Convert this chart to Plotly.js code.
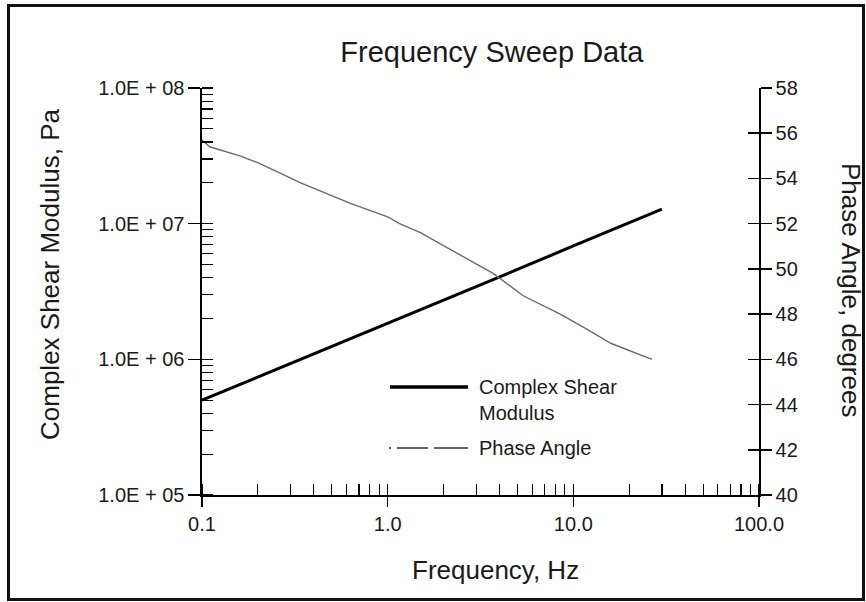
<!DOCTYPE html>
<html>
<head>
<meta charset="utf-8">
<script src="https://cdn.plot.ly/plotly-3.0.1.min.js"></script>
<style>
  body { margin: 0; background: #fff; }
  #wrap { position: relative; width: 866px; height: 602px; }
  #chart { width: 866px; height: 602px; }
  #frame {
    position: absolute; left: 7px; top: 4px; width: 852px; height: 591px;
    border: 3px solid #111; pointer-events: none;
  }
</style>
</head>
<body>
<div id="wrap">
  <div id="chart"></div>
  <div id="frame"></div>
</div>
<script>
// Complex shear modulus (Pa) vs frequency (Hz)
const modFreq = [0.1, 0.2, 0.5, 1.0, 2.0, 5.0, 10.0, 20.0, 30.0];
const modValues = [5.0e5, 7.4e5, 1.24e6, 1.85e6, 2.75e6, 4.6e6, 6.85e6, 1.02e7, 1.28e7];

// Phase angle (degrees) vs frequency (Hz)
const phaseFreq = [0.1, 0.11, 0.16, 0.2, 0.34, 0.63, 1.0, 1.16, 1.5, 2.5, 3.7, 5.4, 8.5, 12, 16, 26.5];
const phaseValues = [55.7, 55.4, 55.0, 54.7, 53.8, 52.9, 52.3, 52.0, 51.6, 50.6, 49.8, 48.8, 48.0, 47.3, 46.7, 46.0];

// Tick labels
const xTickVals = [0.1, 1, 10, 100];
const xTickText = ['0.1', '1.0', '10.0', '100.0'];
const yTickVals = [1e5, 1e6, 1e7, 1e8];
const yTickText = ['1.0E + 05', '1.0E + 06', '1.0E + 07', '1.0E + 08'];

const font = 'Liberation Sans, Arial, sans-serif';
const ink = '#1a1a1a';

// plot area in pixels, used to place the hand-made legend
const L = 202, R = 759, T = 88, B = 495;
const px = x => (x - L) / (R - L);
const py = y => (B - y) / (B - T);

const traces = [
    {
        x: modFreq, y: modValues,
        mode: 'lines', type: 'scatter',
        line: { color: '#000', width: 3 },
        yaxis: 'y'
    },
    {
        x: phaseFreq, y: phaseValues,
        mode: 'lines', type: 'scatter',
        line: { color: '#6a6a6a', width: 1.4 },
        yaxis: 'y2'
    },
    // invisible helpers so the inner half of the crossing ticks gets drawn
    {
        x: phaseFreq, y: phaseValues,
        mode: 'lines', type: 'scatter', opacity: 0, line: { width: 0 },
        hoverinfo: 'skip', xaxis: 'x2', yaxis: 'y3'
    },
    {
        x: modFreq, y: modValues,
        mode: 'lines', type: 'scatter', opacity: 0, line: { width: 0 },
        hoverinfo: 'skip', xaxis: 'x', yaxis: 'y4'
    }
];

const tickBase = { tickcolor: '#000', tickwidth: 1.5, showgrid: false, zeroline: false };

const layout = {
    width: 866, height: 602,
    margin: { l: L, r: 866 - R, t: T, b: 602 - B },
    paper_bgcolor: '#fff',
    plot_bgcolor: '#fff',
    font: { family: font, color: ink, size: 20 },
    showlegend: false,
    title: {
        text: 'Frequency Sweep Data',
        font: { size: 29, color: ink },
        x: 0.568, xanchor: 'center',
        y: 0.914, yanchor: 'middle'
    },
    xaxis: Object.assign({}, tickBase, {
        type: 'log', range: [-1, 2],
        tickvals: xTickVals, ticktext: xTickText,
        ticks: 'outside', ticklen: 10,
        minor: { dtick: 'D1', ticks: 'inside', ticklen: 11, tickwidth: 1.2, tickcolor: '#000', showgrid: false },
        showline: true, linecolor: '#000', linewidth: 1.6,
        tickfont: { size: 20 }
    }),
    xaxis2: Object.assign({}, tickBase, {
        type: 'log', range: [-1, 2], overlaying: 'x', anchor: 'y', side: 'bottom',
        tickvals: xTickVals, ticks: 'inside', ticklen: 11,
        showticklabels: false, showline: false
    }),
    yaxis: Object.assign({}, tickBase, {
        type: 'log', range: [5, 8],
        tickvals: yTickVals, ticktext: yTickText,
        ticks: 'outside', ticklen: 12,
        minor: { dtick: 'D1', ticks: 'inside', ticklen: 11, tickwidth: 1.2, tickcolor: '#000', showgrid: false },
        showline: true, linecolor: '#000', linewidth: 1.6,
        tickfont: { size: 20 }
    }),
    yaxis4: Object.assign({}, tickBase, {
        type: 'log', range: [5, 8], overlaying: 'y', anchor: 'x', side: 'left',
        tickvals: yTickVals, ticks: 'inside', ticklen: 11,
        showticklabels: false, showline: false
    }),
    yaxis2: Object.assign({}, tickBase, {
        overlaying: 'y', side: 'right', anchor: 'x',
        range: [40, 58], dtick: 2, tick0: 40,
        ticks: 'outside', ticklen: 11,
        showline: true, linecolor: '#000', linewidth: 1.6,
        tickfont: { size: 20 }
    }),
    yaxis3: Object.assign({}, tickBase, {
        overlaying: 'y', side: 'right', anchor: 'x2',
        range: [40, 58], dtick: 2, tick0: 40,
        ticks: 'inside', ticklen: 11,
        showticklabels: false, showline: false
    }),
    shapes: [
        { type: 'line', xref: 'paper', yref: 'paper',
          x0: px(390), x1: px(468), y0: py(387), y1: py(387),
          line: { color: '#000', width: 3.5 } },
        { type: 'line', xref: 'paper', yref: 'paper',
          x0: px(389), x1: px(468), y0: py(448), y1: py(448),
          line: { color: '#333', width: 1.3, dash: '2px,6px,31px,6px,34px' } }
    ],
    annotations: [
        { text: 'Complex Shear', xref: 'paper', yref: 'paper', x: px(477), y: py(387),
          xanchor: 'left', yanchor: 'middle', showarrow: false, font: { size: 20, color: ink } },
        { text: 'Modulus', xref: 'paper', yref: 'paper', x: px(477), y: py(413),
          xanchor: 'left', yanchor: 'middle', showarrow: false, font: { size: 20, color: ink } },
        { text: 'Phase Angle', xref: 'paper', yref: 'paper', x: px(477), y: py(448),
          xanchor: 'left', yanchor: 'middle', showarrow: false, font: { size: 20, color: ink } },
        { text: 'Frequency, Hz', xref: 'paper', yref: 'paper', x: px(495), y: py(570),
          xanchor: 'center', yanchor: 'middle', showarrow: false, font: { size: 26, color: ink } },
        { text: 'Complex Shear Modulus, Pa', xref: 'paper', yref: 'paper', x: px(50), y: py(275),
          xanchor: 'center', yanchor: 'middle', textangle: -90, showarrow: false, font: { size: 26, color: ink } },
        { text: 'Phase Angle, degrees', xref: 'paper', yref: 'paper', x: px(851), y: py(290),
          xanchor: 'center', yanchor: 'middle', textangle: 90, showarrow: false, font: { size: 26, color: ink } }
    ]
};

Plotly.newPlot('chart', traces, layout, { displayModeBar: false, staticPlot: true });
</script>
</body>
</html>
